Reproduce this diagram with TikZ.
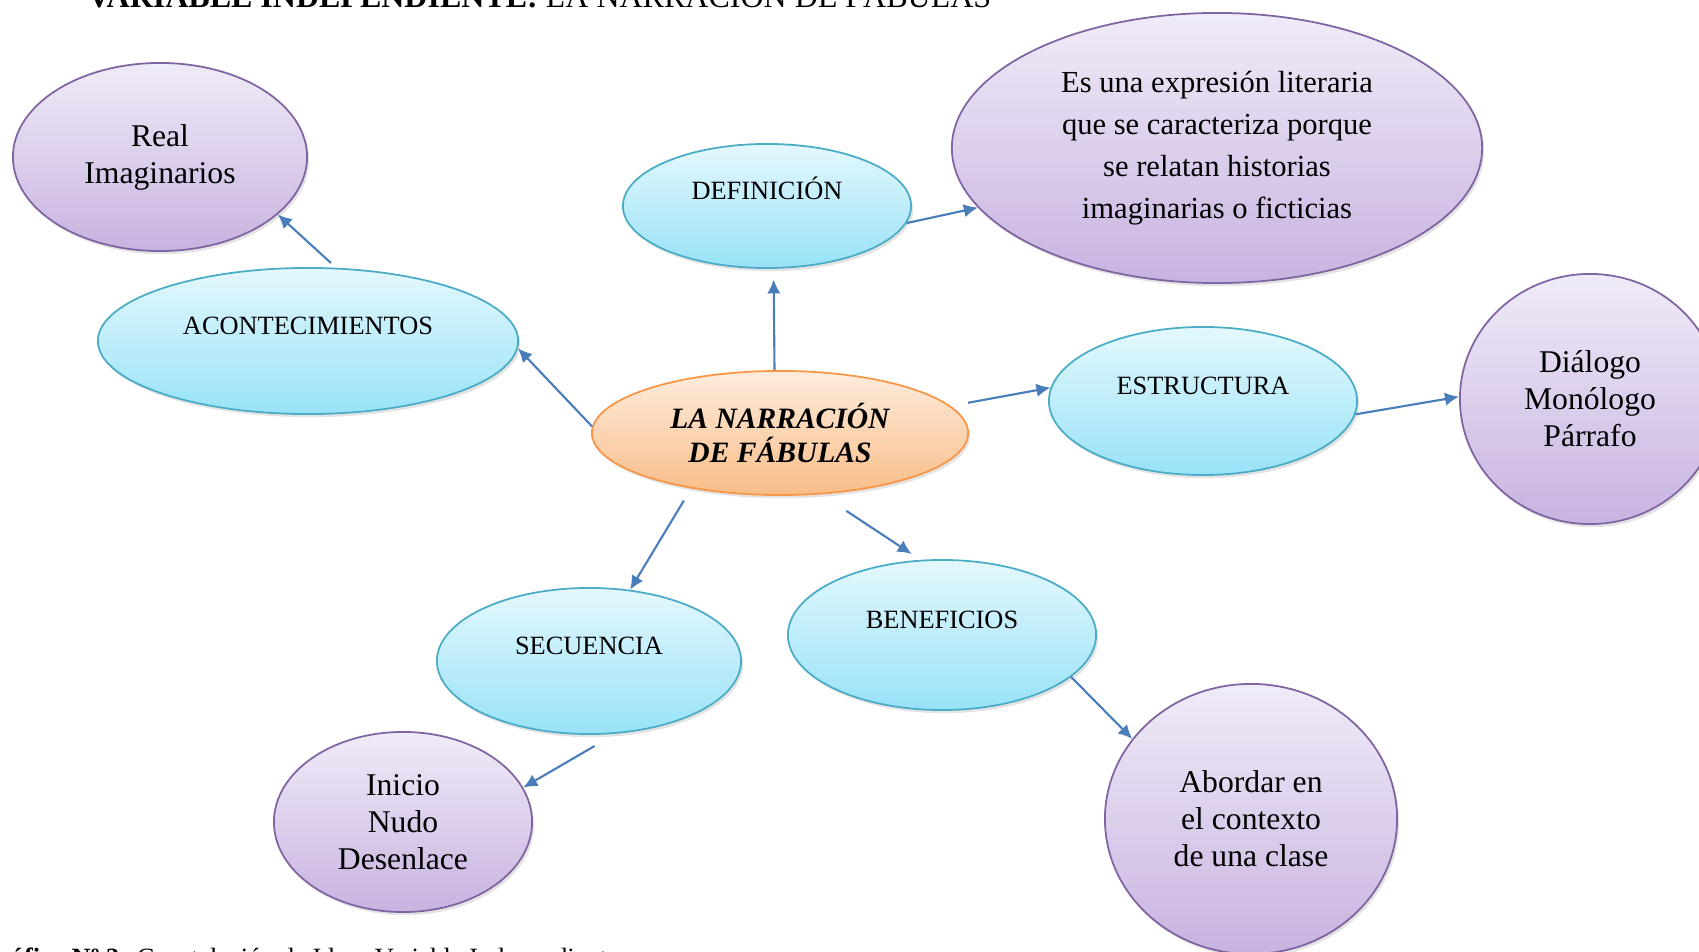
\documentclass[tikz,border=0pt]{standalone}
\usepackage{fontspec}
\setmainfont{Liberation Serif}
\usetikzlibrary{shapes.geometric,shadows,arrows.meta}
\definecolor{lila}{HTML}{8064A2}
\definecolor{lilaclaro}{HTML}{F0EBF8}
\definecolor{lilaoscuro}{HTML}{C8B3E0}
\definecolor{celeste}{HTML}{4BACC6}
\definecolor{celesteclaro}{HTML}{E4F8FD}
\definecolor{celesteoscuro}{HTML}{98E2F7}
\definecolor{naranja}{HTML}{F79646}
\definecolor{naranjaclaro}{HTML}{FDECDD}
\definecolor{naranjaoscuro}{HTML}{F9BD88}
\definecolor{azul}{HTML}{4A7EBB}

\begin{document}
\begin{tikzpicture}[x=0.01cm, y=-0.01cm,
    >={Latex[length=4pt,width=3.8pt]},
    sombra/.style={drop shadow={opacity=0.22, shadow xshift=0.6pt, shadow yshift=-0.9pt}},
    idea/.style={ellipse, draw=lila, line width=0.5pt, top color=lilaclaro, bottom color=lilaoscuro,
        inner sep=0pt, align=center, font=\fontsize{9}{10.5}\selectfont, sombra},
    tema/.style={ellipse, draw=celeste, line width=0.5pt, top color=celesteclaro, bottom color=celesteoscuro,
        inner sep=0pt, font=\fontsize{7.5}{9}\selectfont, text height=5pt, text depth=8.5pt, sombra},
    nucleo/.style={ellipse, draw=naranja, line width=0.5pt, top color=naranjaclaro, bottom color=naranjaoscuro,
        inner sep=0pt, align=center, font=\fontsize{8.4}{9.7}\selectfont\bfseries\itshape, sombra},
    flecha/.style={->, draw=azul, line width=0.6pt}]
    \useasboundingbox (0,0) rectangle (1699,952);

    % titulo y pie
    \node[anchor=base west, inner sep=0pt, font=\fontsize{9.1}{10}\selectfont] (titulo) at (87,8)
        {\textbf{VARIABLE INDEPENDIENTE:} LA NARRACIÓN DE FÁBULAS};
    \node[anchor=base west, inner sep=0pt, font=\fontsize{7.5}{9}\selectfont] (pie) at (-22,966)
        {\textbf{Gráfico Nº 3:} Constelación de Ideas Variable Independiente};

    % nodos
    \node[nucleo, minimum width=3.76cm, minimum height=1.24cm] (cen) at (780,433) {LA NARRACIÓN\\DE FÁBULAS};
    \node[tema, minimum width=4.20cm, minimum height=1.46cm] (acon) at (308,341) {ACONTECIMIENTOS};
    \node[tema, minimum width=2.88cm, minimum height=1.24cm] (defn) at (767,206) {DEFINICIÓN};
    \node[tema, minimum width=3.08cm, minimum height=1.48cm] (estr) at (1203,401) {ESTRUCTURA};
    \node[tema, minimum width=3.04cm, minimum height=1.46cm] (secu) at (589,661) {SECUENCIA};
    \node[tema, minimum width=3.08cm, minimum height=1.50cm] (bene) at (942,635) {BENEFICIOS};
    \node[idea, minimum width=2.94cm, minimum height=1.88cm] (real) at (160,157) {Real\\Imaginarios};
    \node[idea, minimum width=5.30cm, minimum height=2.70cm, font=\fontsize{8.7}{12}\selectfont] (expr) at (1217,148)
        {Es una expresión literaria\\que se caracteriza porque\\se relatan historias\\imaginarias o ficticias};
    \node[idea, minimum width=2.60cm, minimum height=2.50cm] (dial) at (1590,399) {Diálogo\\Monólogo\\Párrafo};
    \node[idea, minimum width=2.58cm, minimum height=1.80cm] (inic) at (403,822) {Inicio\\Nudo\\Desenlace};
    \node[idea, minimum width=2.92cm, minimum height=2.70cm] (abor) at (1251,819) {Abordar en\\el contexto\\de una clase};

    % flechas
    \draw[flecha] (cen.178) -- (acon.-2);
    \draw[flecha, shorten <=2pt] (acon.69) -- (real.-26);
    \draw[flecha, shorten >=3pt] (cen.95) -- (defn.-84);
    \draw[flecha] (defn.-7) -- (expr.194);
    \draw[flecha, shorten <=5pt] (cen.9) -- (estr.175);
    \draw[flecha] (estr.-5) -- (dial.179);
    \draw[flecha, shorten <=4pt] (cen.212) -- (secu.60);
    \draw[flecha, shorten <=8.5pt, shorten >=3pt] (cen.-56) -- (bene.106);
    \draw[flecha, shorten <=6.9pt] (secu.-70) -- (inic.16);
    \draw[flecha] (bene.-18) -- (abor.146);
\end{tikzpicture}
\end{document}
